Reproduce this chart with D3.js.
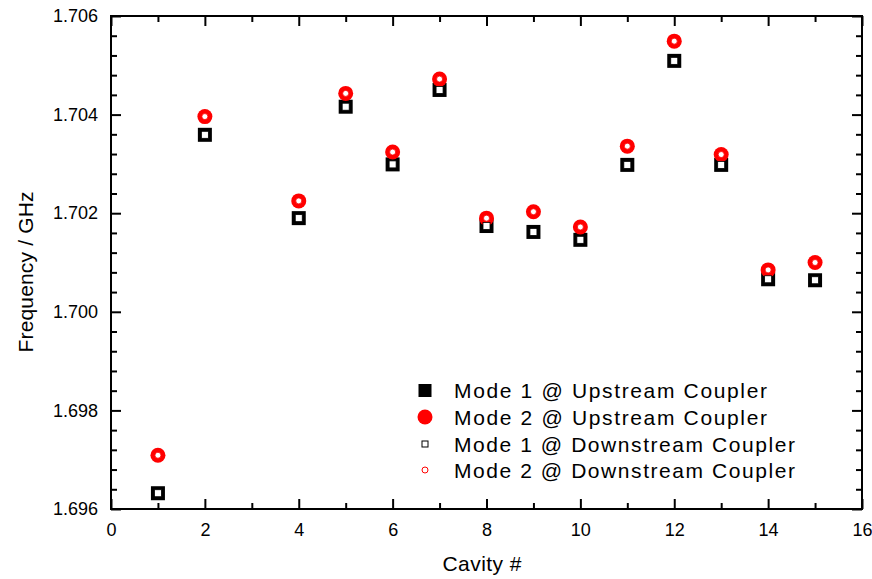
<!DOCTYPE html>
<html><head><meta charset="utf-8">
<script src="https://cdn.jsdelivr.net/npm/d3@7"></script>
<style>body{margin:0;background:#fff}svg{display:block}text{font-family:"Liberation Sans",Arial,sans-serif}</style>
</head><body>
<script>
const cavities = [1,2,4,5,6,7,8,9,10,11,12,13,14,15];
const mode1Up   = [1.69632,1.70359,1.70190,1.70416,1.70299,1.70450,1.70174,1.70162,1.70146,1.70298,1.70509,1.70298,1.70066,1.70064];
const mode2Up   = [1.69709,1.70396,1.70225,1.70443,1.70324,1.70472,1.70190,1.70203,1.70172,1.70336,1.70549,1.70319,1.70085,1.70100];
const mode1Down = mode1Up.slice();
const mode2Down = mode2Up.slice();
const xTicks = [0,2,4,6,8,10,12,14,16];
const yTicks = [1.696,1.698,1.700,1.702,1.704,1.706];
const legendLabels = ["Mode 1 @ Upstream Coupler","Mode 2 @ Upstream Coupler","Mode 1 @ Downstream Coupler","Mode 2 @ Downstream Coupler"];
const legendWidths = [313,313,341,341];

const W=872,H=579, L=111,R=862,T=16,B=509;
const svg=d3.select("body").append("svg").attr("width",W).attr("height",H);
const x=d3.scaleLinear().domain([0,16]).range([L,R]);
const y=d3.scaleLinear().domain([1.696,1.706]).range([B,T]);

const xMinor=d3.range(1,16,2);
const yMinor=d3.range(0,26).map(i=>1.696+i*0.0004).filter(v=>!yTicks.some(t=>Math.abs(t-v)<1e-9));

function styleAxis(g){g.select(".domain").remove();g.selectAll("line").attr("stroke","#000").attr("stroke-width",2);g.selectAll("text").attr("font-size",18).attr("fill","#000");}

// bottom
svg.append("g").attr("transform",`translate(0,${B})`).call(d3.axisBottom(x).tickValues(xTicks).tickFormat(d3.format("d")).tickSizeInner(-10).tickPadding(14)).call(styleAxis);
svg.append("g").attr("transform",`translate(0,${B})`).call(d3.axisBottom(x).tickValues(xMinor).tickFormat("").tickSizeInner(-6)).call(styleAxis);
// top
svg.append("g").attr("transform",`translate(0,${T})`).call(d3.axisTop(x).tickValues(xTicks).tickFormat("").tickSizeInner(-10)).call(styleAxis);
svg.append("g").attr("transform",`translate(0,${T})`).call(d3.axisTop(x).tickValues(xMinor).tickFormat("").tickSizeInner(-6)).call(styleAxis);
// left
svg.append("g").attr("transform",`translate(${L},0)`).call(d3.axisLeft(y).tickValues(yTicks).tickFormat(d3.format(".3f")).tickSizeInner(-10).tickPadding(13)).call(styleAxis);
svg.append("g").attr("transform",`translate(${L},0)`).call(d3.axisLeft(y).tickValues(yMinor).tickFormat("").tickSizeInner(-6)).call(styleAxis);
// right
svg.append("g").attr("transform",`translate(${R},0)`).call(d3.axisRight(y).tickValues(yTicks).tickFormat("").tickSizeInner(-10)).call(styleAxis);
svg.append("g").attr("transform",`translate(${R},0)`).call(d3.axisRight(y).tickValues(yMinor).tickFormat("").tickSizeInner(-6)).call(styleAxis);

svg.append("rect").attr("x",L).attr("y",T).attr("width",R-L).attr("height",B-T).attr("fill","none").attr("stroke","#000").attr("stroke-width",2);

const red="#ff0000";
// upstream filled markers
svg.append("g").selectAll("rect").data(cavities).join("rect")
  .attr("x",(d,i)=>x(d)-7).attr("y",(d,i)=>y(mode1Up[i])-7).attr("width",14).attr("height",14).attr("fill","#000");
svg.append("g").selectAll("circle").data(cavities).join("circle")
  .attr("cx",(d,i)=>x(d)).attr("cy",(d,i)=>y(mode2Up[i])).attr("r",7.5).attr("fill",red);
// downstream open markers
svg.append("g").selectAll("rect").data(cavities).join("rect")
  .attr("x",(d,i)=>x(d)-3.5).attr("y",(d,i)=>y(mode1Down[i])-3.5).attr("width",7).attr("height",7).attr("fill","#fff").attr("stroke","#000").attr("stroke-width",0.8);
svg.append("g").selectAll("circle").data(cavities).join("circle")
  .attr("cx",(d,i)=>x(d)).attr("cy",(d,i)=>y(mode2Down[i])).attr("r",3).attr("fill","#fff").attr("stroke",red).attr("stroke-width",0.8);

// legend
const lx=425, ly=[390.5,417,444,470];
const lg=svg.append("g");
lg.append("rect").attr("x",lx-6.5).attr("y",ly[0]-6.5).attr("width",13).attr("height",13).attr("fill","#000");
lg.append("circle").attr("cx",lx).attr("cy",ly[1]).attr("r",7.5).attr("fill",red);
lg.append("rect").attr("x",lx-3).attr("y",ly[2]-3).attr("width",6).attr("height",6).attr("fill","#fff").attr("stroke","#000").attr("stroke-width",1);
lg.append("circle").attr("cx",lx).attr("cy",ly[3]).attr("r",3).attr("fill","#fff").attr("stroke",red).attr("stroke-width",1);
lg.selectAll("text").data(legendLabels).join("text")
  .attr("x",454).attr("y",(d,i)=>ly[i]).attr("dy","0.36em").attr("font-size",21).attr("fill","#000")
  .attr("textLength",(d,i)=>legendWidths[i]).attr("lengthAdjust","spacing").text(d=>d);

// axis titles
svg.append("text").attr("x",482).attr("y",571).attr("text-anchor","middle").attr("font-size",21)
  .attr("textLength",79).attr("lengthAdjust","spacing").text("Cavity #");
svg.append("text").attr("transform",`translate(33,${272}) rotate(-90)`).attr("text-anchor","middle").attr("font-size",21)
  .attr("textLength",161).attr("lengthAdjust","spacing").text("Frequency / GHz");
</script>
</body></html>
